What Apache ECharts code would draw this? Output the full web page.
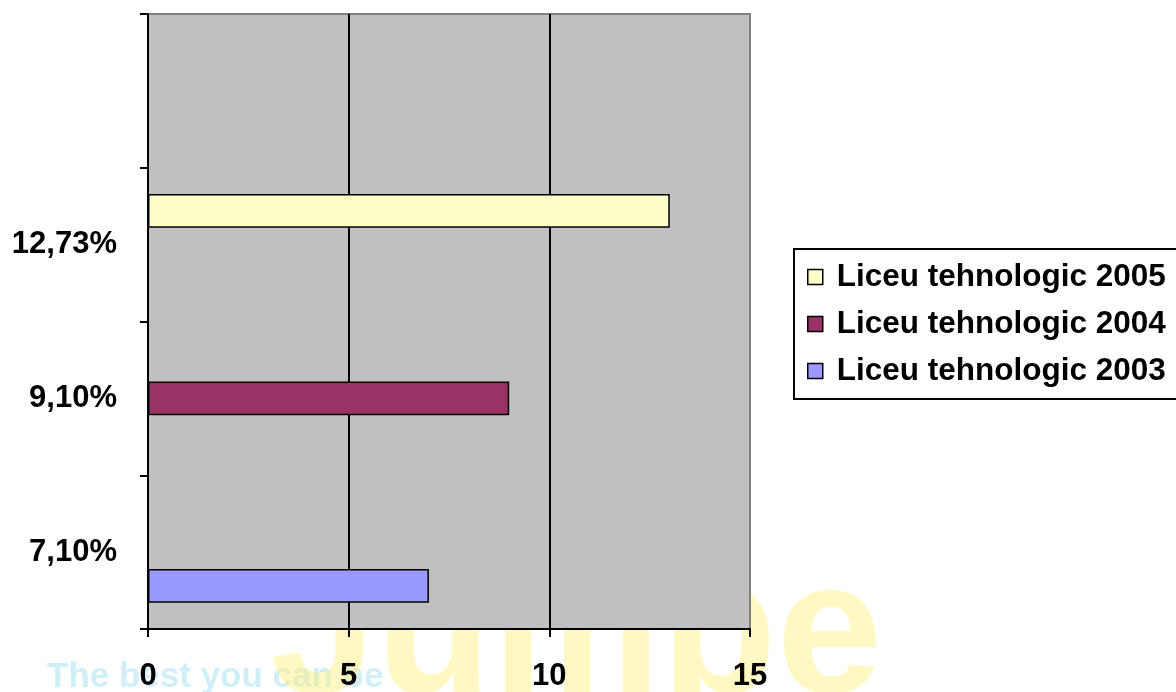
<!DOCTYPE html>
<html>
<head>
<meta charset="utf-8">
<script src="https://cdn.jsdelivr.net/npm/echarts@6/dist/echarts.min.js"></script>
<style>
  html, body { margin: 0; padding: 0; background: #fff; }
  #chart { width: 1176px; height: 692px; }
</style>
</head>
<body>
<div id="chart"></div>
<script>
// categories (bottom to top), last one is the empty band at the top
var categories = ['7,10%', '9,10%', '12,73%', ''];
var seriesNames = ['Liceu tehnologic 2005', 'Liceu tehnologic 2004', 'Liceu tehnologic 2003'];
var values2005 = ['-', '-', 13, '-'];
var values2004 = ['-', 9, '-', '-'];
var values2003 = [7, '-', '-', '-'];
var colors = ['#FFFFCC', '#993366', '#9999FF'];
var xTicks = [0, 15, 5];

var font = 'Arial, "Liberation Sans", sans-serif';
var myChart = echarts.init(document.getElementById('chart'));

function barSeries(name, data, color) {
    return {
        name: name,
        type: 'bar',
        data: data,
        barGap: 0,
        barCategoryGap: '34%',
        itemStyle: { color: color, borderColor: '#000', borderWidth: 1.5 },
        emphasis: { disabled: true }
    };
}

var option = {
    animation: false,
    color: colors,
    textStyle: { fontFamily: font },
    // faint watermark behind the chart
    graphic: [
        {
            type: 'text', z: -1, left: 47, top: 660,
            style: { text: 'The best you can be', fill: 'rgba(140,215,238,0.4)', font: 'bold 35px ' + font }
        },
        {
            type: 'text', z: -1, left: 270, top: 545,
            style: { text: 'Jumpe', fill: 'rgba(255,240,120,0.45)', font: 'bold 190px ' + font }
        }
    ],
    grid: {
        left: 148, right: 426, top: 14, bottom: 62,
        show: true,
        backgroundColor: '#C0C0C0',
        borderColor: '#808080',
        borderWidth: 2
    },
    legend: {
        data: seriesNames,
        orient: 'vertical',
        left: 794, top: 249,
        itemWidth: 15, itemHeight: 15,
        itemGap: 15,
        padding: [12, 24, 12, 13],
        borderColor: '#000', borderWidth: 2,
        icon: 'rect',
        itemStyle: { borderColor: '#000', borderWidth: 1.5 },
        textStyle: { fontSize: 31.5, fontWeight: 'bold', color: '#000', fontFamily: font, padding: [0, 0, 0, 9] }
    },
    xAxis: {
        type: 'value',
        min: xTicks[0], max: xTicks[1], interval: xTicks[2],
        axisLine: { show: true, lineStyle: { color: '#000', width: 2 } },
        axisTick: { show: true, length: 8, lineStyle: { color: '#000', width: 2 } },
        axisLabel: { fontSize: 31, fontWeight: 'bold', color: '#000', margin: 32, fontFamily: font },
        splitLine: { show: true, showMinLine: false, showMaxLine: false, lineStyle: { color: '#000', width: 2 } }
    },
    yAxis: {
        type: 'category',
        data: categories,
        axisLine: { show: true, lineStyle: { color: '#000', width: 2 } },
        axisTick: { show: true, length: 8, lineStyle: { color: '#000', width: 2 } },
        axisLabel: { fontSize: 31, fontWeight: 'bold', color: '#000', margin: 31, fontFamily: font },
        splitLine: { show: false }
    },
    series: [
        barSeries(seriesNames[0], values2005, colors[0]),
        barSeries(seriesNames[1], values2004, colors[1]),
        barSeries(seriesNames[2], values2003, colors[2])
    ]
};

myChart.setOption(option);
</script>
</body>
</html>
